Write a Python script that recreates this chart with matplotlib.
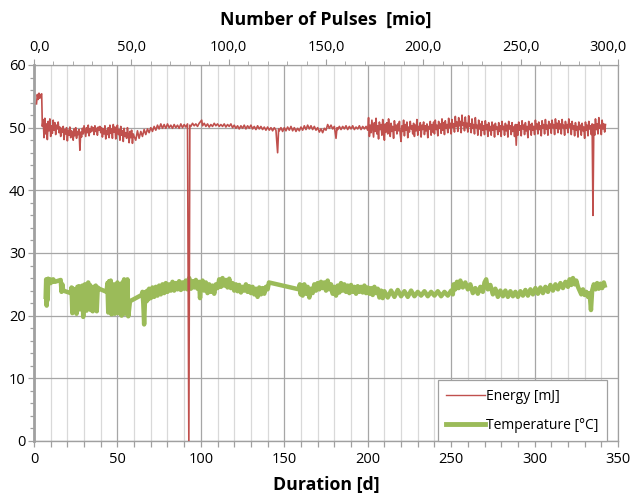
import matplotlib
matplotlib.use("Agg")
import matplotlib.pyplot as plt
from matplotlib.ticker import MultipleLocator, FuncFormatter
import matplotlib.transforms as mtransforms

# ---------------- data ----------------
# Energy, first part (start-up and noisy early phase)
energy_days_a = [
    1.5, 2.0, 2.5, 3.0, 3.5, 4.0, 4.6,
    5.0, 5.5, 6.0, 6.5, 7.0, 7.5, 8.0, 8.5, 9.0, 9.5,
    10.0, 10.5, 11.0, 11.5, 12.0, 12.5, 13.0, 13.5, 14.0, 14.5,
    15.0, 15.5, 16.0, 16.5, 17.0, 17.5, 18.0, 18.5, 19.0, 19.5,
    20.0, 20.5, 21.0, 21.5, 22.0, 22.5, 23.0, 23.5, 24.0, 24.5,
    25.0, 25.5, 26.0, 26.5, 27.0, 27.5, 28.0, 28.5, 29.0, 29.5,
    30.0, 30.5, 31.0, 31.5, 32.0, 32.5, 33.0, 33.5, 34.0, 34.5,
    35.0, 35.5, 36.0, 36.5, 37.0, 37.5, 38.0, 38.5, 39.0, 39.5,
    40.0, 40.5, 41.0, 41.5, 42.0, 42.5, 43.0, 43.5, 44.0, 44.5,
    45.0, 45.5, 46.0, 46.5, 47.0, 47.5, 48.0, 48.5, 49.0, 49.5,
    50.0, 50.5, 51.0, 51.5, 52.0, 52.5, 53.0, 53.5, 54.0, 54.5,
    55.0, 55.5, 56.0, 56.5, 57.0, 57.5, 58.0, 58.5, 59.0, 59.5,
    60.0,
]
energy_mj_a = [
    53.8, 55.3, 54.5, 55.5, 54.7, 55.2, 55.4,
    50.2, 51.3, 48.4, 51.5, 49.0, 50.6, 48.1, 51.0, 49.5, 51.4,
    48.6, 50.3, 49.1, 51.2, 49.6, 50.8, 48.9, 50.4, 49.8, 50.9,
    49.2, 50.1, 48.6, 49.9, 49.3, 50.2, 48.1, 49.7, 49.0, 50.0,
    47.9, 49.6, 48.8, 50.1, 48.4, 49.5, 49.1, 48.0, 49.8, 48.7,
    50.0, 48.3, 49.4, 48.9, 49.7, 46.4, 49.3, 48.5, 49.9, 49.0,
    50.3, 49.4, 48.6, 50.0, 49.2, 50.4, 48.7, 49.8, 49.3, 50.2,
    49.5, 50.0, 48.9, 50.3, 49.4, 49.9, 48.8, 50.1, 49.6, 50.2,
    49.2, 50.0, 48.5, 49.8, 49.0, 50.3, 48.2, 49.6, 48.9, 50.0,
    48.4, 50.4, 49.1, 49.8, 48.3, 50.5, 49.3, 50.1, 48.2, 49.9,
    50.4, 48.9, 49.7, 48.0, 50.2, 48.8, 49.5, 47.8, 49.9, 48.6,
    49.2, 48.3, 50.0, 48.9, 47.6, 49.4, 48.4, 49.6, 47.5, 49.0,
    48.6,
]

# Energy, middle part (quiet phase with the drop to zero and a small spike)
energy_days_b = [
    61.0, 62.0, 63.0, 64.0, 65.0, 66.0, 67.0, 68.0, 69.0, 70.0, 71.0, 72.0, 73.0, 74.0, 75.0,
    76.0, 77.0, 78.0, 79.0, 80.0, 81.0, 82.0, 83.0, 84.0, 85.0, 86.0, 87.0, 88.0, 89.0, 90.0,
    91.0, 92.0, 92.8, 93.4, 94.0, 95.0, 96.0, 97.0, 98.0, 99.0, 100.5, 101.0, 102.0, 103.0,
    104.0, 105.0, 106.0, 107.0, 108.0, 109.0, 110.0, 111.0, 112.0, 113.0, 114.0, 115.0, 116.0,
    117.0, 118.0, 119.0, 120.0, 121.0, 122.0, 123.0, 124.0, 125.0, 126.0, 127.0, 128.0, 129.0,
    130.0, 131.0, 132.0, 133.0, 134.0, 135.0, 136.0, 137.0, 138.0, 139.0, 140.0, 141.0, 142.0,
    143.0, 144.0, 145.0, 146.0, 146.6, 147.0, 148.0, 149.0, 150.0, 151.0, 152.0, 153.0, 154.0,
    155.0, 156.0, 157.0, 158.0, 159.0, 160.0, 161.0, 162.0, 163.0, 164.0, 165.0, 166.0, 167.0,
    168.0, 169.0, 170.0, 171.0, 172.0, 173.0, 174.0, 175.0, 176.0, 177.0, 178.0, 179.0, 180.0,
    181.0, 181.6, 182.0, 183.0, 184.0, 185.0, 186.0, 187.0, 188.0, 189.0, 190.0, 191.0, 192.0,
    193.0, 194.0, 195.0, 196.0, 197.0, 198.0, 199.0,
]
energy_mj_b = [
    48.0, 49.5, 48.3, 49.4, 48.6, 49.7, 48.9, 49.8, 49.2, 50.0, 49.4, 50.2, 49.6, 50.4, 49.8,
    50.6, 49.9, 50.5, 49.9, 50.6, 50.0, 50.4, 49.9, 50.5, 50.0, 50.4, 49.9, 50.6, 50.0, 50.5,
    50.1, 50.6, 0.0, 50.4, 50.2, 50.7, 50.3, 50.6, 50.2, 50.7, 51.2, 50.3, 50.7, 50.2,
    50.6, 50.1, 50.5, 50.2, 50.7, 50.3, 50.6, 50.2, 50.5, 50.2, 50.6, 50.1, 50.5,
    50.2, 50.6, 50.0, 50.4, 49.9, 50.3, 49.8, 50.3, 49.9, 50.4, 49.8, 50.3, 49.9,
    50.4, 49.8, 50.2, 49.7, 50.3, 49.8, 50.2, 49.7, 50.1, 49.6, 50.1, 49.6, 50.0,
    49.5, 50.0, 49.6, 46.0, 49.8, 49.5, 50.0, 49.4, 50.0, 49.5, 50.1, 49.6, 50.2,
    49.5, 50.0, 49.4, 49.9, 49.5, 50.1, 49.6, 50.3, 49.7, 50.4, 49.8, 50.3, 49.7,
    50.2, 49.6, 50.0, 49.3, 49.8, 49.2, 49.9, 49.6, 50.5, 49.9, 50.4, 49.8, 50.2,
    48.3, 50.0, 49.7, 50.2, 49.7, 50.2, 49.8, 50.3, 49.7, 50.2, 49.8, 50.3, 49.7,
    50.1, 49.8, 50.3, 49.7, 50.2, 49.8, 50.2,
]

# Energy, last part (wider scatter, drop near the end)
energy_days_c = [
    200.0, 200.5, 201.0, 201.5, 202.0, 202.5, 203.0, 203.5, 204.0, 204.5,
    205.0, 205.5, 206.0, 206.5, 207.0, 207.5, 208.0, 208.5, 209.0, 209.5,
    210.0, 210.5, 211.0, 211.5, 212.0, 212.5, 213.0, 213.5, 214.0, 214.5,
    215.0, 215.5, 216.0, 216.5, 217.0, 217.5, 218.0, 218.5, 219.0, 219.5,
    220.0, 220.5, 221.0, 221.5, 222.0, 222.5, 223.0, 223.5, 224.0, 224.5,
    225.0, 225.5, 226.0, 226.5, 227.0, 227.5, 228.0, 228.5, 229.0, 229.5,
    230.0, 230.5, 231.0, 231.5, 232.0, 232.5, 233.0, 233.5, 234.0, 234.5,
    235.0, 235.5, 236.0, 236.5, 237.0, 237.5, 238.0, 238.5, 239.0, 239.5,
    240.0, 240.5, 241.0, 241.5, 242.0, 242.5, 243.0, 243.5, 244.0, 244.5,
    245.0, 245.5, 246.0, 246.5, 247.0, 247.5, 248.0, 248.5, 249.0, 249.5,
    250.0, 250.5, 251.0, 251.5, 252.0, 252.5, 253.0, 253.5, 254.0, 254.5,
    255.0, 255.5, 256.0, 256.5, 257.0, 257.5, 258.0, 258.5, 259.0, 259.5,
    260.0, 260.5, 261.0, 261.5, 262.0, 262.5, 263.0, 263.5, 264.0, 264.5,
    265.0, 265.5, 266.0, 266.5, 267.0, 267.5, 268.0, 268.5, 269.0, 269.5,
    270.0, 270.5, 271.0, 271.5, 272.0, 272.5, 273.0, 273.5, 274.0, 274.5,
    275.0, 275.5, 276.0, 276.5, 277.0, 277.5, 278.0, 278.5, 279.0, 279.5,
    280.0, 280.5, 281.0, 281.5, 282.0, 282.5, 283.0, 283.5, 284.0, 284.5,
    285.0, 285.5, 286.0, 286.5, 287.0, 287.5, 288.0, 288.5, 289.0, 289.5,
    290.0, 290.5, 291.0, 291.5, 292.0, 292.5, 293.0, 293.5, 294.0, 294.5,
    295.0, 295.5, 296.0, 296.5, 297.0, 297.5, 298.0, 298.5, 299.0, 299.5,
    300.0, 300.5, 301.0, 301.5, 302.0, 302.5, 303.0, 303.5, 304.0, 304.5,
    305.0, 305.5, 306.0, 306.5, 307.0, 307.5, 308.0, 308.5, 309.0, 309.5,
    310.0, 310.5, 311.0, 311.5, 312.0, 312.5, 313.0, 313.5, 314.0, 314.5,
    315.0, 315.5, 316.0, 316.5, 317.0, 317.5, 318.0, 318.5, 319.0, 319.5,
    320.0, 320.5, 321.0, 321.5, 322.0, 322.5, 323.0, 323.5, 324.0, 324.5,
    325.0, 325.5, 326.0, 326.5, 327.0, 327.5, 328.0, 328.5, 329.0, 329.5,
    330.0, 330.5, 331.0, 331.5, 332.0, 332.5, 333.0, 333.5, 334.0, 334.5,
    335.0, 335.5, 336.0, 336.5, 337.0, 337.5, 338.0, 338.5, 339.0, 339.5,
    340.0, 340.5, 341.0, 341.5, 342.0, 342.5,
]
energy_mj_c = [
    49.6, 51.6, 48.6, 50.4, 49.2, 51.2, 49.9, 48.5, 50.8, 49.4,
    51.5, 49.0, 50.3, 48.2, 50.9, 49.7, 50.5, 48.8, 51.3, 49.5,
    48.0, 50.6, 49.3, 50.8, 49.0, 51.4, 49.8, 48.6, 50.7, 49.4,
    50.2, 48.3, 51.1, 49.6, 50.4, 49.0, 50.6, 49.5, 51.0, 48.9,
    47.8, 50.3, 49.4, 51.2, 48.7, 50.5, 49.6, 50.9, 48.4, 50.1,
    49.3, 51.0, 49.8, 50.3, 49.0, 50.7, 48.6, 50.4, 49.5, 51.3,
    48.8, 50.2, 49.6, 50.8, 48.5, 50.4, 49.7, 50.9, 48.9, 50.3,
    49.5, 50.6, 48.4, 50.2, 49.8, 51.0, 48.8, 50.5, 49.3, 50.9,
    49.0, 51.2, 49.7, 50.4, 48.7, 51.0, 49.9, 50.6, 49.1, 51.4,
    49.6, 50.8, 48.9, 51.1, 49.9, 50.5, 49.2, 51.5, 50.0, 50.7,
    49.0, 51.3, 50.1, 50.6, 49.3, 51.8, 50.2, 50.9, 49.4, 51.6,
    50.3, 51.0, 49.2, 52.0, 50.4, 50.8, 49.5, 51.7, 50.1, 50.7,
    49.3, 51.9, 50.2, 50.6, 49.2, 51.4, 49.9, 50.5, 49.0, 51.6,
    50.0, 50.4, 48.8, 51.2, 49.8, 50.6, 48.7, 51.0, 49.6, 50.3,
    48.9, 51.1, 49.7, 50.5, 48.6, 50.8, 49.5, 50.2, 48.8, 50.9,
    49.6, 50.4, 48.5, 50.7, 49.8, 50.1, 48.9, 50.8, 49.4, 50.3,
    48.6, 51.0, 49.7, 50.2, 48.8, 50.7, 49.5, 50.4, 48.5, 51.0,
    49.8, 50.3, 48.9, 50.8, 49.4, 50.1, 48.6, 50.5, 47.2, 50.5,
    48.8, 50.9, 49.6, 50.3, 48.7, 51.1, 49.8, 50.4, 48.9, 50.8,
    49.5, 50.2, 48.4, 51.0, 49.7, 50.5, 48.8, 50.7, 49.6, 50.2,
    48.9, 51.2, 49.8, 50.6, 49.0, 50.9, 49.7, 50.3, 48.7, 51.1,
    49.9, 50.5, 49.0, 51.3, 49.8, 50.4, 48.8, 51.0, 49.9, 50.6,
    49.1, 51.2, 50.0, 50.5, 48.9, 51.4, 49.9, 50.7, 49.2, 51.1,
    49.8, 50.6, 49.0, 51.3, 50.0, 50.4, 48.8, 51.0, 49.9, 50.5,
    49.2, 51.4, 50.1, 50.6, 48.9, 51.0, 49.8, 50.3, 48.7, 50.8,
    49.6, 50.2, 48.5, 50.9, 49.7, 50.4, 48.8, 50.7, 49.5, 50.1,
    48.3, 50.9, 49.6, 50.4, 48.7, 51.0, 49.8, 50.3, 48.9, 50.6,
    36.0, 50.5, 48.8, 51.4, 49.7, 50.6, 49.0, 51.6, 49.9, 50.4,
    48.9, 51.2, 49.8, 50.6, 49.3, 50.5,
]

temp_days = [
    7.0, 7.3, 7.6, 7.9, 8.2, 8.5, 9.0, 9.5, 10.0, 10.5, 11.0, 11.5, 12.5, 16.0, 16.5, 17.0,
    17.5, 22.0, 22.5, 23.0, 23.5, 24.0, 24.5, 25.0, 25.5, 26.0, 26.5, 27.0, 27.5, 28.0, 28.5,
    29.0, 29.5, 30.0, 30.5, 31.0, 31.5, 32.0, 32.5, 33.0, 33.5, 34.0, 34.5, 35.2, 35.8, 36.5,
    37.0, 37.6, 38.2, 39.0, 43.5, 44.0, 44.5, 45.0, 45.5, 46.0, 46.5, 47.0, 47.5, 48.0, 48.5,
    49.0, 49.5, 50.0, 50.5, 51.0, 51.5, 52.0, 52.5, 53.0, 53.5, 54.0, 54.5, 55.0, 55.5, 56.0,
    56.5, 57.0, 57.5, 64.5, 65.0, 65.5, 66.0, 66.5, 67.0, 67.5, 68.0, 68.5, 69.0, 70.0, 71.0,
    72.0, 73.0, 74.0, 75.0, 76.0, 77.0, 78.0, 79.0, 80.0, 81.0, 82.0, 83.0, 84.0, 85.0, 86.0,
    87.0, 88.0, 89.0, 90.0, 91.0, 92.0, 93.0, 94.0, 95.0, 96.0, 97.0, 98.0, 99.0, 99.5, 100.0,
    101.0, 102.0, 103.0, 104.0, 105.0, 106.0, 107.0, 108.0, 109.0, 110.0, 111.0, 112.0, 113.0,
    114.0, 115.0, 116.0, 117.0, 118.0, 119.0, 120.0, 121.0, 122.0, 123.0, 124.0, 125.0, 126.0,
    127.0, 128.0, 129.0, 130.0, 131.0, 132.0, 133.0, 134.0, 135.0, 136.0, 137.0, 138.0, 139.0,
    140.0, 140.8, 158.8, 159.3, 159.8, 160.5, 161.0, 162.0, 163.0, 164.0, 165.0, 166.0, 167.0,
    168.0, 169.0, 170.0, 171.0, 172.0, 173.0, 174.0, 175.0, 176.0, 177.0, 178.0, 179.0, 180.0,
    181.0, 182.0, 183.0, 184.0, 185.0, 186.0, 187.0, 188.0, 189.0, 190.0, 191.0, 192.0, 193.0,
    194.0, 195.0, 196.0, 197.0, 198.0, 199.0, 200.0, 201.0, 202.0, 203.0, 204.0, 205.0, 206.0,
    207.0, 208.0, 209.0, 210.0, 212.0, 214.0, 216.0, 218.0, 220.0, 222.0, 224.0, 226.0, 228.0,
    230.0, 232.0, 234.0, 236.0, 238.0, 240.0, 242.0, 244.0, 246.0, 248.0, 250.0, 251.0, 251.5,
    252.5, 253.5, 254.5, 255.5, 257.0, 258.5, 260.0, 261.5, 263.0, 264.5, 266.0, 267.5, 269.0,
    270.0, 271.0, 272.0, 273.5, 275.0, 276.5, 278.0, 279.5, 281.0, 282.5, 284.0, 285.5, 287.0,
    288.5, 290.0, 291.5, 293.0, 294.5, 296.0, 297.5, 299.0, 300.5, 302.0, 303.5, 305.0, 306.5,
    308.0, 309.5, 311.0, 312.5, 314.0, 315.5, 317.0, 318.5, 320.0, 321.0, 322.0, 323.0, 324.0,
    325.0, 326.0, 327.0, 328.0, 329.0, 330.0, 331.0, 332.0, 333.0, 333.8, 334.5, 335.5, 336.5,
    337.5, 338.5, 339.5, 340.5, 341.5, 342.0,
]
temp_c = [
    23.0, 25.8, 21.6, 25.5, 22.5, 25.9, 25.3, 25.8, 25.2, 25.7, 25.4, 25.8, 25.4, 25.7, 23.8, 25.0,
    24.0, 23.6, 24.5, 20.4, 24.3, 23.8, 20.6, 24.2, 20.3, 24.6, 23.9, 24.7, 21.0, 24.4, 23.8,
    24.8, 19.8, 24.2, 25.0, 24.3, 20.8, 24.9, 25.3, 24.0, 24.9, 20.9, 24.6, 20.7, 24.6, 24.2,
    24.8, 20.7, 24.5, 24.3, 23.8, 25.2, 20.5, 25.5, 21.0, 25.6, 20.2, 24.8, 21.5, 25.0, 20.3,
    24.5, 21.8, 25.3, 20.4, 25.0, 21.2, 24.6, 20.0, 25.3, 22.0, 25.8, 20.3, 25.5, 21.0, 25.8,
    19.9, 21.0, 22.3, 23.3, 23.8, 22.0, 18.6, 22.5, 23.8, 22.3, 24.0, 22.6, 24.3, 22.8, 24.5,
    23.0, 24.6, 23.2, 24.8, 23.4, 25.0, 23.6, 25.2, 23.8, 25.0, 24.0, 25.4, 24.0, 25.2, 24.2,
    25.5, 24.1, 25.3, 24.3, 25.6, 24.2, 26.0, 24.3, 25.5, 24.5, 25.7, 24.3, 25.4, 22.8, 24.6,
    25.6, 24.0, 25.3, 23.6, 25.0, 23.8, 24.8, 23.5, 25.0, 24.4, 25.8, 24.6, 26.0,
    24.8, 25.7, 24.5, 25.9, 24.4, 25.2, 24.0, 25.0, 23.9, 24.9, 23.7, 24.6, 24.0,
    25.0, 23.8, 24.7, 23.6, 24.6, 23.4, 24.3, 23.0, 24.5, 23.4, 24.4, 23.5, 24.6,
    24.2, 25.3, 24.2, 25.0, 23.4, 24.8, 23.2, 25.0, 23.5, 24.6, 22.9, 24.3, 23.6,
    25.0, 24.0, 25.2, 24.2, 25.4, 24.4, 25.3, 24.0, 25.6, 24.2, 25.0, 23.5, 24.6,
    23.2, 24.8, 23.7, 25.2, 24.0, 25.0, 23.8, 24.8, 23.6, 24.9, 23.8, 24.6, 23.5,
    24.7, 23.8, 24.6, 23.7, 24.8, 23.6, 24.5, 23.5, 24.4, 23.3, 24.6, 23.6, 24.3,
    22.9, 24.0, 22.8, 23.9, 22.9, 24.0, 23.0, 24.1, 23.1, 23.9, 23.0, 24.0, 23.1,
    23.8, 23.2, 23.9, 23.1, 23.8, 23.2, 23.9, 23.1, 23.8, 23.2, 24.0, 23.4, 25.0,
    24.2, 25.4, 24.4, 25.6, 24.5, 25.3, 24.2, 25.0, 23.6, 24.4, 23.5, 24.6, 23.8,
    25.3, 25.8, 24.2, 24.9, 23.4, 24.3, 23.0, 24.0, 23.1, 24.0, 23.0, 23.9, 23.1,
    23.8, 23.0, 23.9, 23.2, 24.1, 23.2, 24.2, 23.4, 24.4, 23.5, 24.5, 23.6, 24.6,
    23.8, 24.9, 24.0, 25.0, 24.2, 25.2, 24.4, 25.4, 24.6, 25.8, 24.9, 26.0, 25.0,
    25.6, 24.6, 24.0, 23.4, 24.2, 23.3, 23.8, 23.0, 23.6, 20.9, 24.0, 25.0, 24.2,
    25.2, 24.3, 25.1, 24.4, 25.3, 24.8,
]

series_labels = ["Energy [mJ]", "Temperature [°C]"]
x_title = "Duration [d]"
top_title = "Number of Pulses  [mio]"

# ---------------- style ----------------
plt.rcParams["font.family"] = ["Open Sans", "DejaVu Sans"]
RED = "#C0504D"
GREEN = "#9BBB59"
GRID_MAJ = "#a6a6a6"
GRID_MIN = "#d9d9d9"
AX_COL = "#a0a0a0"

energy_days = energy_days_a + energy_days_b + energy_days_c
energy_mj = energy_mj_a + energy_mj_b + energy_mj_c

fig = plt.figure(figsize=(6.33, 4.93), dpi=100)
ax = fig.add_axes([34 / 633, 1 - 441 / 493, 584 / 633, 376 / 493])

ax.set_xlim(0, 350)
ax.set_ylim(0, 60)
ax.xaxis.set_major_locator(MultipleLocator(50))
ax.xaxis.set_minor_locator(MultipleLocator(10))
ax.yaxis.set_major_locator(MultipleLocator(10))
ax.yaxis.set_minor_locator(MultipleLocator(2))

ax.grid(which="minor", axis="x", color=GRID_MIN, lw=0.9)
ax.grid(which="major", axis="x", color=GRID_MAJ, lw=0.9)
ax.grid(which="major", axis="y", color=GRID_MAJ, lw=0.9)
ax.set_axisbelow(True)

ax.plot(energy_days, energy_mj, color=RED, lw=1.2, label=series_labels[0], zorder=3)
ax.plot(temp_days, temp_c, color=GREEN, lw=3.2, label=series_labels[1], zorder=2,
        solid_joinstyle="round")

for s in ["left", "bottom", "right", "top"]:
    ax.spines[s].set_color(AX_COL)
ax.spines["left"].set_linewidth(2.0)
ax.spines["bottom"].set_linewidth(1.0)
ax.spines["right"].set_linewidth(0.9)
ax.spines["top"].set_linewidth(0.9)

ax.tick_params(which="both", direction="out", color=AX_COL, labelsize=10.5,
               labelcolor="black")
ax.tick_params(which="major", length=4, width=0.9)
ax.tick_params(which="minor", length=4, width=0.9)
ax.tick_params(axis="y", which="minor", length=3)
ax.tick_params(axis="x", pad=4)
ax.tick_params(axis="y", pad=2)

ax.set_xlabel(x_title, fontsize=12.8, fontweight="bold", labelpad=6)

# top axis
ax2 = ax.twiny()
ax2.set_xlim(0, 300)
ax2.xaxis.set_major_locator(MultipleLocator(50))
ax2.xaxis.set_minor_locator(MultipleLocator(10))
ax2.xaxis.set_major_formatter(FuncFormatter(lambda v, p: f"{v:.1f}".replace(".", ",")))
ax2.tick_params(which="both", direction="out", color=AX_COL, labelsize=10.5, pad=3)
ax2.tick_params(which="major", length=4)
ax2.tick_params(which="minor", length=3)
for s in ax2.spines.values():
    s.set_visible(False)
ax2.set_xlabel(top_title, fontsize=12.8, fontweight="bold", labelpad=11)

fig.canvas.draw()
for lab in ax2.get_xticklabels():
    if lab.get_text() == "0,0":
        lab.set_transform(lab.get_transform() + mtransforms.ScaledTranslation(6 / 100, 0, fig.dpi_scale_trans))
    if lab.get_text() == "300,0":
        lab.set_transform(lab.get_transform() + mtransforms.ScaledTranslation(-10 / 100, 0, fig.dpi_scale_trans))

leg = ax.legend(loc="lower right", bbox_to_anchor=(0.981, 0.0), borderaxespad=0,
                fontsize=10, frameon=True, fancybox=False, edgecolor=AX_COL,
                framealpha=1, handlelength=2.8, handletextpad=0.1,
                labelspacing=1.0, borderpad=0.6)
leg.get_frame().set_linewidth(0.9)
leg.legend_handles[0].set_linewidth(1.0)
leg.legend_handles[1].set_linewidth(3.5)

fig.savefig("out.png", dpi=100)
